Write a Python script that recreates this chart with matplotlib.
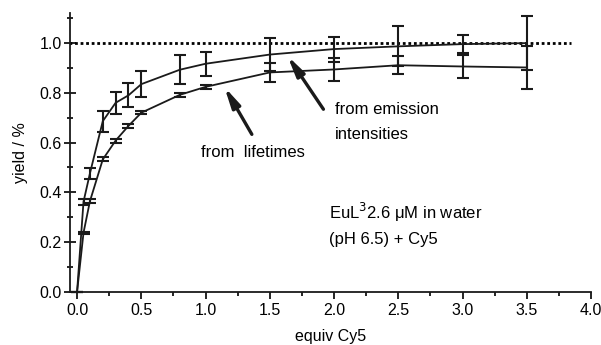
import matplotlib
matplotlib.use("Agg")
import matplotlib.pyplot as plt
from matplotlib.ticker import MultipleLocator, FormatStrFormatter

plt.rcParams['font.family'] = ['Liberation Sans', 'DejaVu Sans']

# Data
equiv = [0, 0.05, 0.1, 0.2, 0.3, 0.4, 0.5, 0.8, 1.0, 1.5, 2.0, 2.5, 3.0, 3.5]
emission = [0, 0.362, 0.476, 0.686, 0.760, 0.790, 0.835, 0.893, 0.917, 0.954, 0.976, 0.987, 0.996, 1.000]
emission_err = [0, 0.012, 0.022, 0.042, 0.045, 0.048, 0.052, 0.058, 0.049, 0.068, 0.050, 0.080, 0.036, 0.110]
lifetime = [0, 0.237, 0.364, 0.532, 0.608, 0.667, 0.720, 0.792, 0.824, 0.882, 0.894, 0.911, 0.906, 0.902]
lifetime_err = [0, 0.005, 0.007, 0.008, 0.008, 0.007, 0.007, 0.007, 0.007, 0.037, 0.046, 0.037, 0.047, 0.087]
reference_yield = 1.0

fig = plt.figure(figsize=(6.01, 3.45), dpi=100)
ax = fig.add_axes([0.1165, 0.1545, 0.867, 0.807])

ax.plot([-0.06, 3.84], [reference_yield, reference_yield], color='black',
        lw=2.0, linestyle=(0, (1, 1)), zorder=1)

for y, e in [(emission, emission_err), (lifetime, lifetime_err)]:
    ax.errorbar(equiv, y, yerr=e, color='#1a1a1a', lw=1.3, elinewidth=1.5,
                capsize=4.2, capthick=1.5, clip_on=False, zorder=3)

ax.set_xlim(-0.055, 4.0)
ax.set_ylim(0, 1.12)
ax.xaxis.set_major_locator(MultipleLocator(0.5))
ax.xaxis.set_minor_locator(MultipleLocator(0.25))
ax.yaxis.set_major_locator(MultipleLocator(0.2))
ax.yaxis.set_minor_locator(MultipleLocator(0.1))
ax.xaxis.set_major_formatter(FormatStrFormatter('%.1f'))
ax.yaxis.set_major_formatter(FormatStrFormatter('%.1f'))

for s in ['top', 'right']:
    ax.spines[s].set_visible(False)
for s in ['left', 'bottom']:
    ax.spines[s].set_linewidth(1.3)
    ax.spines[s].set_color('#1a1a1a')

ax.tick_params(axis='x', which='major', direction='out', length=5, width=1.2, labelsize=11.5, pad=3)
ax.tick_params(axis='x', which='minor', direction='out', length=3, width=1.2)
ax.tick_params(axis='y', which='major', direction='inout', length=8, width=1.2, labelsize=11.5, pad=2)
ax.tick_params(axis='y', which='minor', direction='inout', length=5, width=1.2)

ax.set_xlabel('equiv Cy5', fontsize=11.5, labelpad=8)
ax.set_ylabel('yield / %', fontsize=11.5, labelpad=8)

fs = 12
ax.text(0.963, 0.559, 'from  lifetimes', fontsize=fs, ha='left', va='center')
ax.text(2.008, 0.734, 'from emission', fontsize=fs, ha='left', va='center')
ax.text(2.008, 0.633, 'intensities', fontsize=fs, ha='left', va='center')
ax.text(1.963, 0.317, 'EuL$^{3}$2.6 \u03bcM in water', fontsize=fs, ha='left', va='center')
ax.text(1.963, 0.210, '(pH 6.5) + Cy5', fontsize=fs, ha='left', va='center')

arrow = dict(arrowstyle='-|>,head_length=1.0,head_width=0.22', lw=2.4, color='#1a1a1a',
             mutation_scale=12, shrinkA=0, shrinkB=0)
ax.annotate('', xy=(1.146, 0.824), xytext=(1.36, 0.633), arrowprops=arrow)
ax.annotate('', xy=(1.637, 0.949), xytext=(1.917, 0.734), arrowprops=arrow)

fig.savefig('out.png', dpi=100)
